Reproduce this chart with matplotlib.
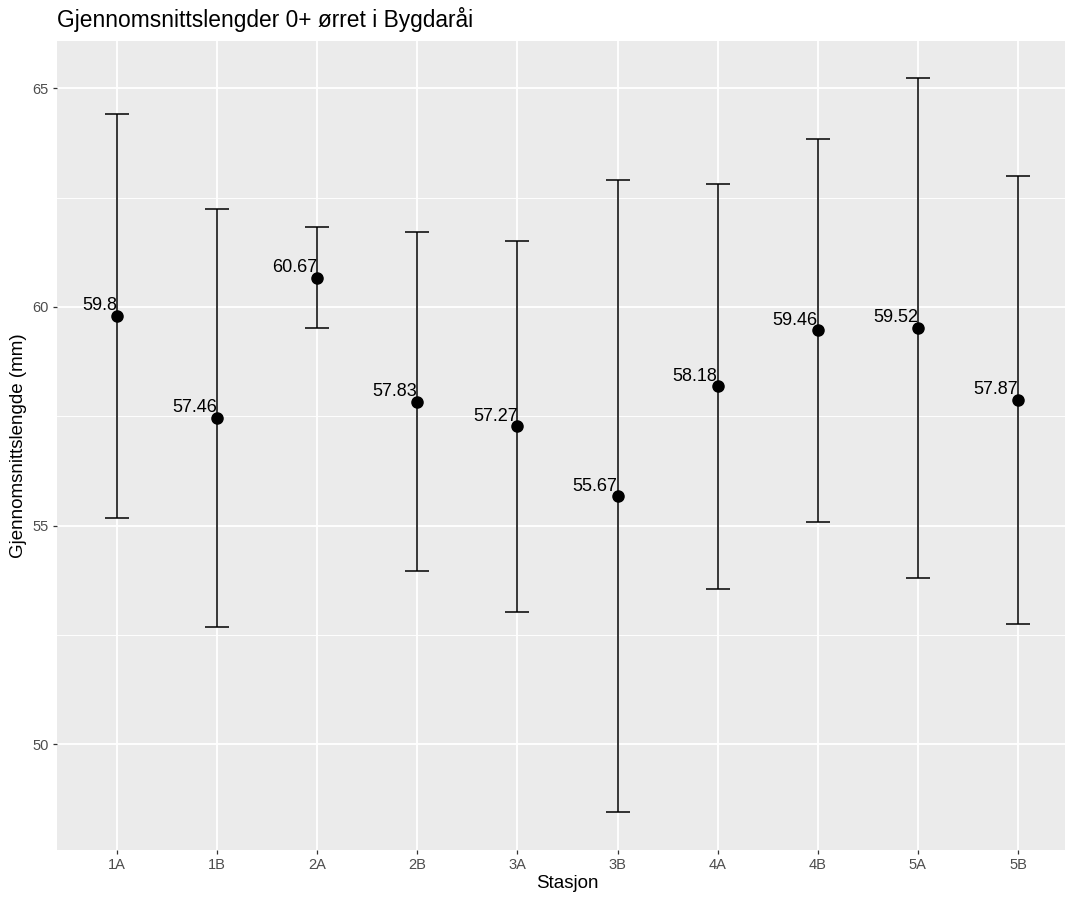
import matplotlib
matplotlib.use("Agg")
import matplotlib.pyplot as plt
import numpy as np

plt.rcParams['font.family'] = ['Liberation Sans', 'DejaVu Sans']

stasjoner = ['1A', '1B', '2A', '2B', '3A', '3B', '4A', '4B', '5A', '5B']
snitt = [59.8, 57.46, 60.67, 57.83, 57.27, 55.67, 58.18, 59.46, 59.52, 57.87]
sd = [4.62, 4.78, 1.16, 3.87, 4.24, 7.23, 4.63, 4.37, 5.72, 5.13]

W, H = 1065, 899
fig = plt.figure(figsize=(W / 100, H / 100), dpi=100)
# panel runs off the right edge of the image
ax = fig.add_axes([57 / W, 1 - 850 / H, (1078 - 57) / W, (850 - 40.5) / H])

x = np.arange(1, len(stasjoner) + 1)
lo = np.array(snitt) - np.array(sd)
hi = np.array(snitt) + np.array(sd)

ax.set_facecolor('#EBEBEB')
ax.set_xlim(0.4, 10.6)
ax.set_ylim(47.58, 66.09)
ax.set_yticks([50, 55, 60, 65])
ax.set_yticks([52.5, 57.5, 62.5], minor=True)
ax.set_xticks(x)
ax.set_xticklabels(stasjoner)
ax.grid(which='major', color='white', linewidth=1.3)
ax.grid(which='minor', axis='y', color='white', linewidth=0.65)
ax.set_axisbelow(True)
for s in ax.spines.values():
    s.set_visible(False)
ax.tick_params(which='major', length=3, width=0.9, color='#333333',
               labelcolor='#4D4D4D', labelsize=10.5, pad=3)
ax.tick_params(which='minor', length=0)

ax.errorbar(x, snitt, yerr=[np.array(snitt) - lo, hi - np.array(snitt)],
            fmt='none', ecolor='black', elinewidth=1.1, capsize=8.6,
            capthick=1.1, zorder=3)
ax.plot(x, snitt, 'o', color='black', markersize=8, zorder=4)

for xi, m in zip(x, snitt):
    ax.annotate(f'{m:g}', (xi, m), xytext=(0, 4), textcoords='offset points',
                ha='right', va='baseline', fontsize=13, color='black')

ax.set_xlabel('Stasjon', fontsize=13.5, labelpad=2)
ax.set_ylabel('Gjennomsnittslengde (mm)', fontsize=13.5, labelpad=4)
fig.text(57 / W, 1 - 20 / H, 'Gjennomsnittslengder 0+ ørret i Bygdaråi',
         fontsize=16.4, ha='left', va='center')

fig.savefig('out.png', dpi=100)
